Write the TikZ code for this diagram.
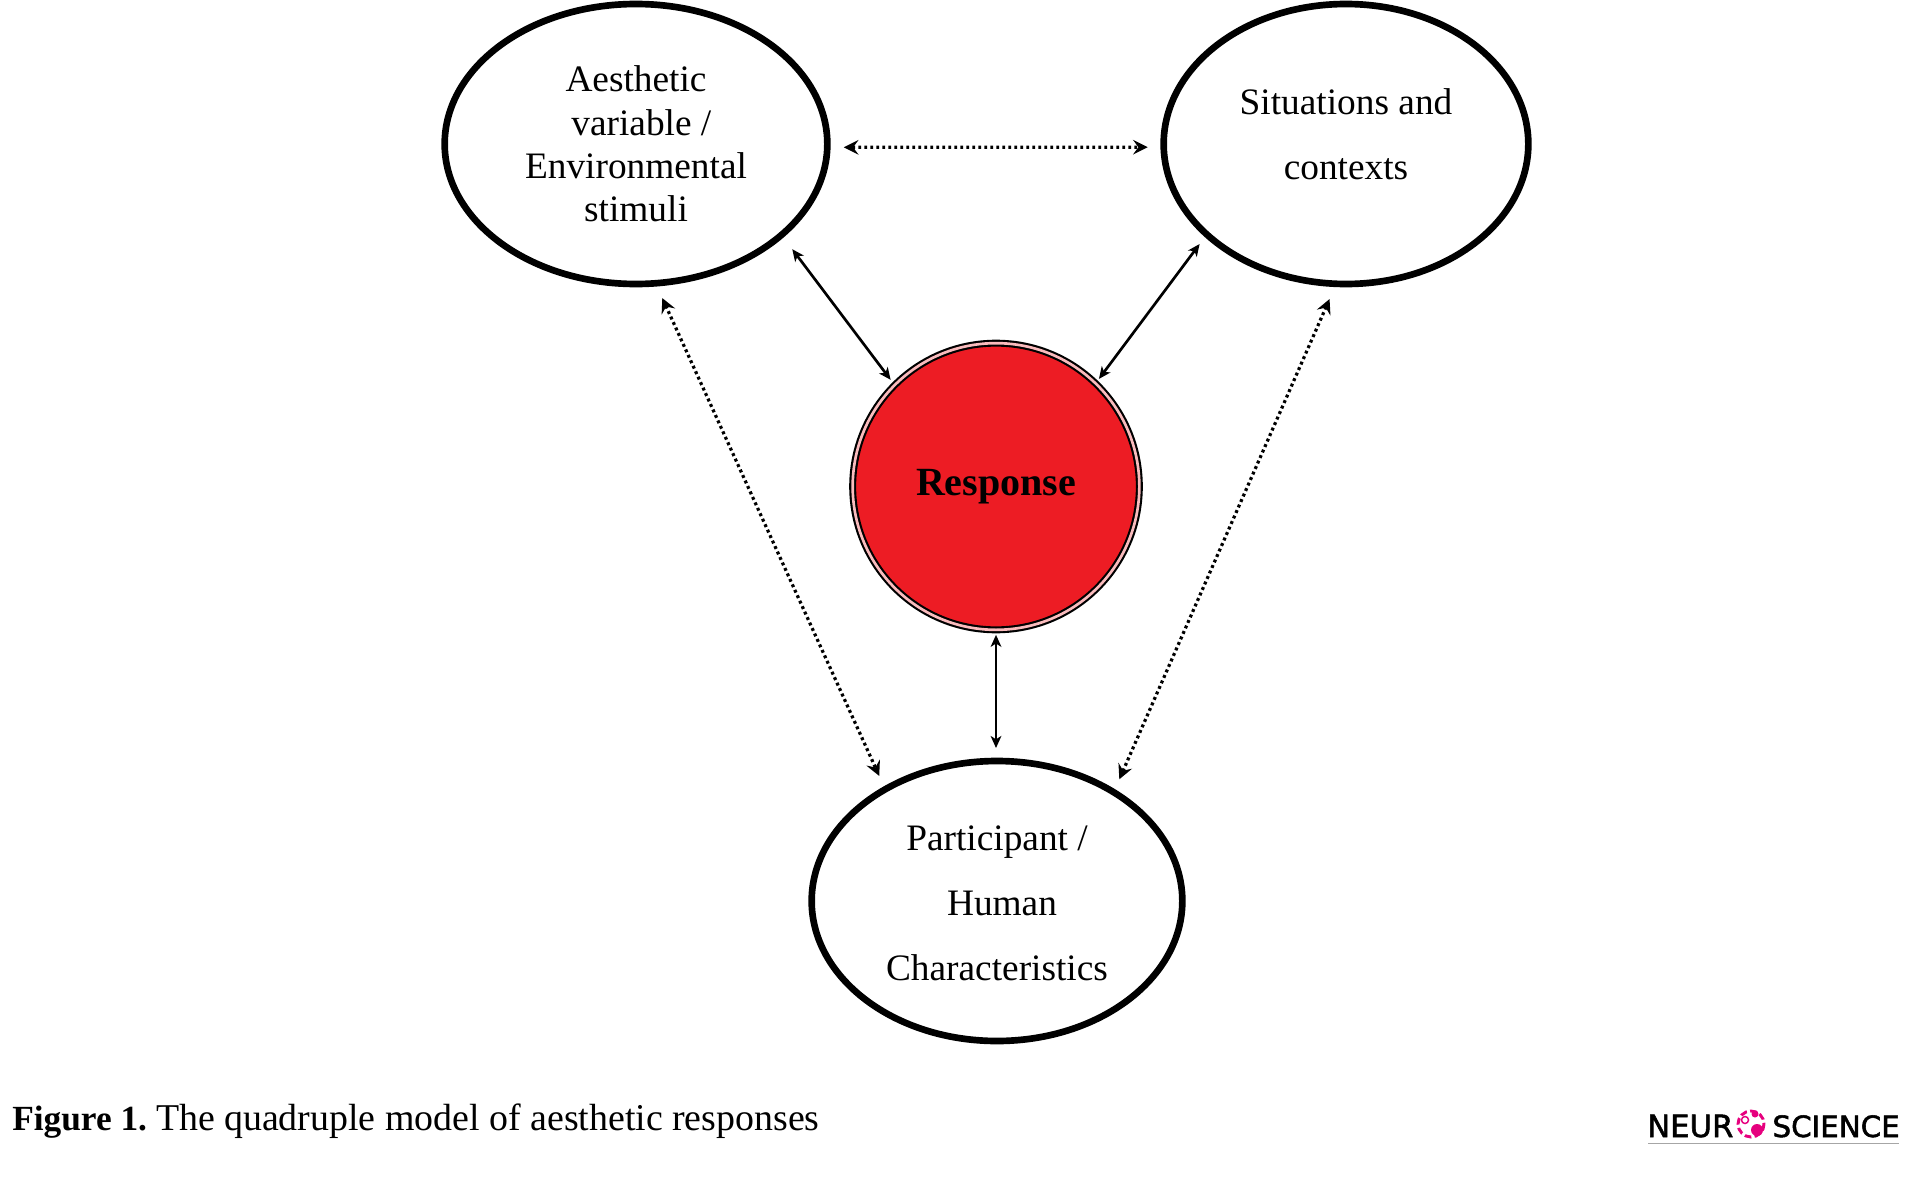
\documentclass[tikz,border=0pt]{standalone}
\usepackage{fontspec}
\setmainfont{Liberation Serif}
\newfontfamily\logofont[FakeBold=1.8]{DejaVu Sans}
\usetikzlibrary{shapes.geometric,arrows.meta}
\definecolor{respred}{RGB}{237,28,36}
\definecolor{logopink}{RGB}{230,0,126}
\tikzset{
	factor/.style={ellipse,draw=black,line width=5pt,inner sep=0pt,outer sep=0pt,align=center,minimum height=210pt,font=\fontsize{28}{32.5}\selectfont},
	widelines/.style={font=\fontsize{28}{48.8}\selectfont},
	solidlink/.style={{Stealth[length=9pt,width=8pt,inset=2.5pt]}-{Stealth[length=9pt,width=8pt,inset=2.5pt]},line width=2pt},
	dotlink/.style={{Stealth[length=11pt,width=11pt,inset=4pt]}-{Stealth[length=11pt,width=11pt,inset=4pt]},line width=2.4pt,dash pattern=on 2.2pt off 2.3pt}
}
\begin{document}
\begin{tikzpicture}[x=0.75pt,y=0.75pt,yscale=-1,xscale=1]
	\useasboundingbox (0,0) rectangle (1923,1202);

	% Ellipses
	\node [factor,minimum width=287pt] (aesthetic) at (636,144) {Aesthetic\\\hspace*{8pt}variable /\\Environmental\\stimuli};
	\node [factor,widelines,minimum width=273.5pt,text depth=15pt] (situation) at (1346,144) {Situations and\\contexts};
	\node [factor,widelines,minimum width=278pt,text height=120pt] (participant) at (997,901) {Participant /\\\hspace*{7.5pt}Human\\Characteristics};
	% Centre circle
	\node [circle,draw=black,fill=respred,line width=1.6pt,double=white!70!respred,double distance=2pt,inner sep=0pt,outer sep=0pt,minimum size=215pt,font=\fontsize{30}{36}\selectfont\bfseries] (response) at (996,486.5) {Response};

	% Solid arrows
	\draw [solidlink,shorten <=13.4pt,shorten >=5pt] (aesthetic.-32.8) -- (response.135);
	\draw [solidlink,shorten <=9pt,shorten >=4.2pt] (situation.213.7) -- (response.46.6);
	\draw [solidlink,shorten <=3.75pt,shorten >=9.75pt] (response.south) -- (response.south |- participant.north);
	% Dotted arrows
	\draw [dotlink,shorten <=12.4pt,shorten >=12pt] (aesthetic.-1) -- (situation.181);
	\draw [dotlink,shorten <=12.2pt,shorten >=11pt] (aesthetic.-82.2) -- (participant.135.3);
	\draw [dotlink,shorten <=12.5pt,shorten >=10.6pt] (situation.-94.2) -- (participant.43.9);

	% Caption
	\node [anchor=base west,inner sep=0pt,font=\fontsize{28.4}{32}\selectfont] (caption) at (12,1130.5) {{\fontsize{26.5}{32}\selectfont\bfseries Figure 1.}\hspace{-2.75pt} The quadruple model of aesthetic responses};

	% Logo
	\node [anchor=base west,inner sep=0pt,font=\logofont\fontsize{23}{26}\selectfont] (logoleft) at (1647,1137) {NEUR};
	\node [anchor=base east,inner sep=0pt,font=\logofont\fontsize{22}{26}\selectfont] (logoright) at (1900,1137) {SCIENCE};
	\draw [logopink,line width=2.2pt,dash pattern=on 5pt off 2.5pt] (1751,1124) circle (13);
	\draw [logopink,line width=1.1pt] (1745,1120) circle (3.5);
	\fill [logopink] (1757,1130) circle (6);
	\fill [logopink] (1755,1114) circle (3.5);
	\draw [black!35,line width=0.9pt] (1648,1143.5) -- (1899,1143.5);
\end{tikzpicture}
\end{document}
